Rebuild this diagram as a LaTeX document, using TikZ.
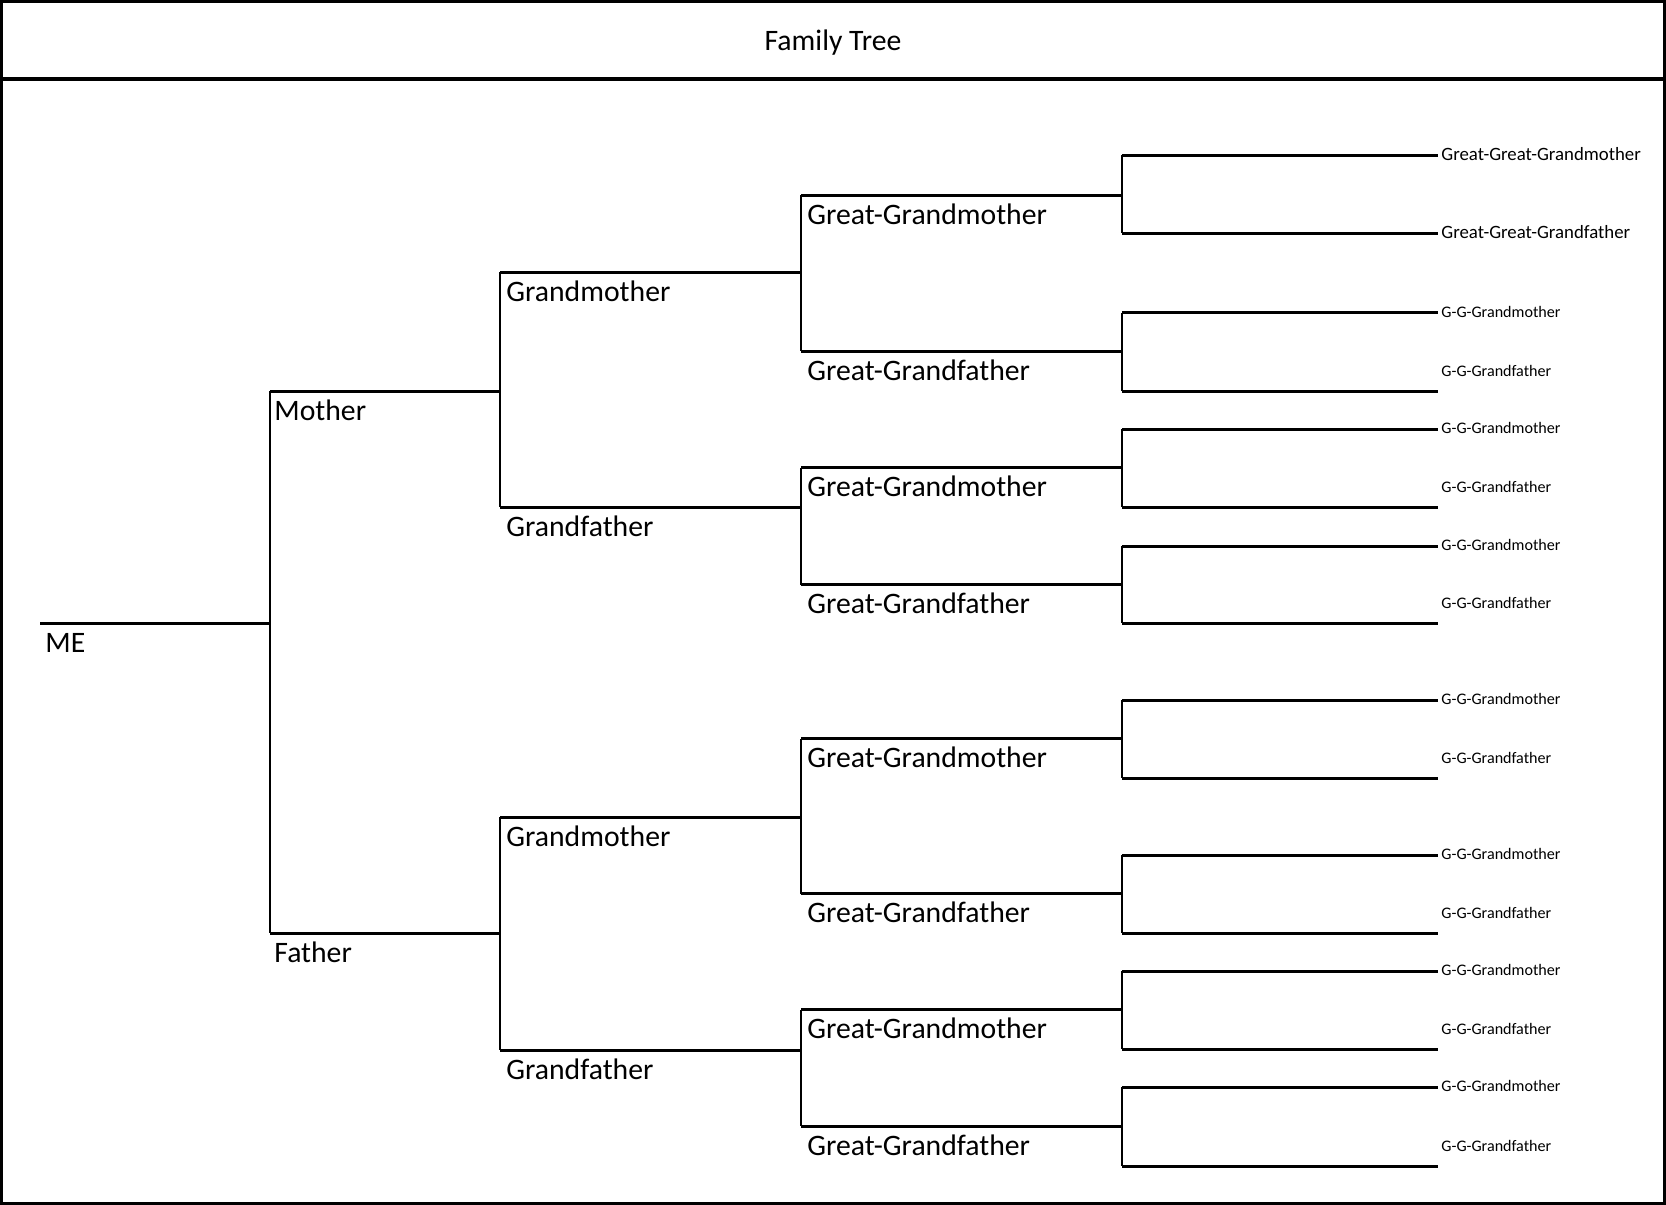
\documentclass[tikz,border=0pt]{standalone}
\usepackage{fontspec}
\setmainfont{Carlito}
\begin{document}
\begin{tikzpicture}[x=0.5pt,y=-0.5pt,
  hl/.style={line width=1.5pt},
  vl/.style={line width=1pt},
  big/.style={anchor=base west, inner sep=0pt, font=\fontsize{14.85}{16}\selectfont},
  ggg/.style={anchor=base west, inner sep=0pt, font=\fontsize{9.4}{11}\selectfont},
  gg/.style={anchor=base west, inner sep=0pt, font=\fontsize{8.05}{9}\selectfont}
]
\useasboundingbox (0,0) rectangle (1666,1205);
% frame and header
\draw[line width=1.5pt] (1.5,1.5) rectangle (1664,1203);
\draw[line width=2pt] (0,78.5) -- (1666,78.5);
\node[anchor=base, inner sep=0pt, font=\fontsize{14.85}{16}\selectfont] (title) at (833,50.5) {Family Tree};

% ME
\coordinate (me) at (40,623);
\coordinate (meE) at (270,623);
\draw[hl] (me) -- (meE);
\node[big] (meL) at (45,652) {ME};

% level 1
\foreach \n/\y/\t in {m/391/Mother, f/933/Father}{
  \coordinate (\n) at (270,\y);
  \coordinate (\n E) at (500,\y);
  \draw[hl] (\n) -- (\n E);
  \node[big] (\n L) at (274,\y+29) {\t};
}
\draw[vl] (m) -- (f);

% level 2
\foreach \n/\y/\t in {mm/272/Grandmother, mf/507/Grandfather, fm/817/Grandmother, ff/1050/Grandfather}{
  \coordinate (\n) at (500,\y);
  \coordinate (\n E) at (801,\y);
  \draw[hl] (\n) -- (\n E);
  \node[big] (\n L) at (506,\y+29) {\t};
}
\draw[vl] (mm) -- (mf);
\draw[vl] (fm) -- (ff);

% level 3
\foreach \n/\y/\t in {mmm/195/Great-Grandmother, mmf/351/Great-Grandfather,
                      mfm/467.5/Great-Grandmother, mff/584.5/Great-Grandfather,
                      fmm/738.5/Great-Grandmother, fmf/893.5/Great-Grandfather,
                      ffm/1009.5/Great-Grandmother, fff/1126/Great-Grandfather}{
  \coordinate (\n) at (801,\y);
  \coordinate (\n E) at (1122,\y);
  \draw[hl] (\n) -- (\n E);
  \node[big] (\n L) at (807,\y+29) {\t};
}
\draw[vl] (mmm) -- (mmf);
\draw[vl] (mfm) -- (mff);
\draw[vl] (fmm) -- (fmf);
\draw[vl] (ffm) -- (fff);

% level 4
\coordinate (mmmm) at (1122,155);   \coordinate (mmmmE) at (1438,155);
\coordinate (mmmf) at (1122,233);   \coordinate (mmmfE) at (1438,233);
\draw[hl] (mmmm) -- (mmmmE);
\draw[hl] (mmmf) -- (mmmfE);
\draw[vl] (mmmm) -- (mmmf);
\node[ggg] (mmmmL) at (1441,160.5) {Great-Great-Grandmother};
\node[ggg] (mmmfL) at (1441,238.5) {Great-Great-Grandfather};

\foreach \n/\ya/\yb in {mmf/312.5/391, mfm/429/507, mff/546/623,
                        fmm/700/778, fmf/855/933, ffm/971/1049, fff/1087/1166}{
  \coordinate (\n m) at (1122,\ya);
  \coordinate (\n mE) at (1438,\ya);
  \coordinate (\n f) at (1122,\yb);
  \coordinate (\n fE) at (1438,\yb);
  \draw[hl] (\n m) -- (\n mE);
  \draw[hl] (\n f) -- (\n fE);
  \draw[vl] (\n m) -- (\n f);
  \node[gg] (\n mL) at (1441,\ya+4.5) {G-G-Grandmother};
  \node[gg] (\n fL) at (1441,\yb-15) {G-G-Grandfather};
}
\end{tikzpicture}
\end{document}
